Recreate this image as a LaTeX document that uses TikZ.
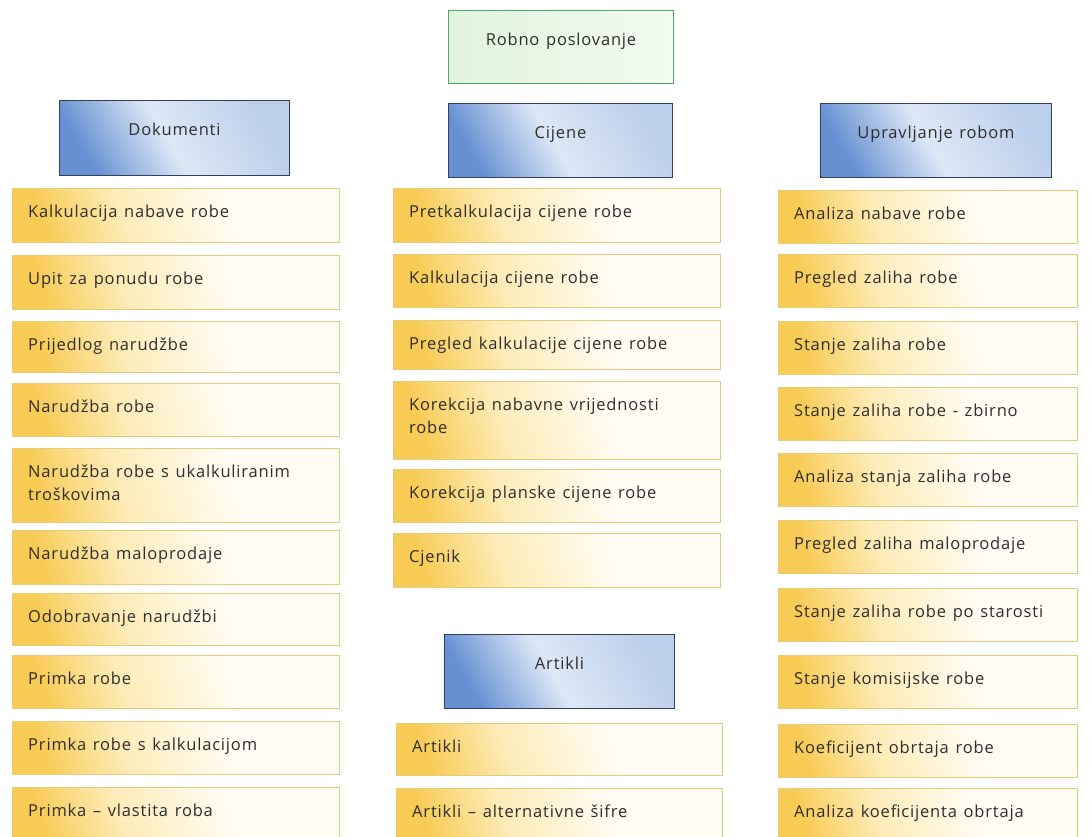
\documentclass[tikz,border=0pt]{standalone}
\usepackage{fontspec}
\setmainfont[LetterSpace=5,WordSpace=1.3]{Open Sans}
\definecolor{yA}{HTML}{F8CB55}
\definecolor{yB}{HTML}{FDECB8}
\definecolor{yC}{HTML}{FFFCF3}
\definecolor{yBorder}{HTML}{E3CC7C}
\definecolor{bA}{HTML}{6690D2}
\definecolor{bB}{HTML}{DDE8F6}
\definecolor{bC}{HTML}{BCCFEB}
\definecolor{bBorder}{HTML}{34405A}
\definecolor{gA}{HTML}{E0F4DC}
\definecolor{gB}{HTML}{F3FBF0}
\definecolor{gBorder}{HTML}{55A068}
\definecolor{txt}{HTML}{2E2E2E}
\pgfdeclarehorizontalshading{yelgrad}{100bp}{color(0bp)=(yA); color(25bp)=(yA); color(40bp)=(yB); color(60bp)=(yC); color(100bp)=(yC)}
\pgfdeclarehorizontalshading{bluegrad}{100bp}{color(0bp)=(bA); color(25bp)=(bA); color(48bp)=(bB); color(75bp)=(bC); color(100bp)=(bC)}
\pgfdeclarehorizontalshading{greengrad}{100bp}{color(0bp)=(gA); color(25bp)=(gA); color(75bp)=(gB); color(100bp)=(gB)}
\tikzset{
  yitem/.style={draw=yBorder, line width=1pt, shading=yelgrad, shading angle=18, anchor=north west, inner sep=0pt},
  bhead/.style={draw=bBorder, line width=1pt, shading=bluegrad, shading angle=30, anchor=north west, inner sep=0pt},
  ghead/.style={draw=gBorder, line width=1pt, shading=greengrad, anchor=north west, inner sep=0pt},
  itxt/.style={anchor=north west, inner sep=0pt, align=left, text=txt, font=\fontsize{16.5}{23}\selectfont},
  htxt/.style={anchor=base, inner sep=0pt, text=txt, font=\fontsize{16.5}{20}\selectfont}
}
% name, x, top, width, height, text
\newcommand{\yitm}[6]{%
  \node[yitem, minimum width=#4pt, minimum height=#5pt] (#1) at (#2,#3) {};
  \node[itxt] (#1t) at ([shift={(16,17)}]#1.north west) {#6};}
\newcommand{\hdr}[7]{%
  \node[#7, minimum width=#4pt, minimum height=#5pt] (#1) at (#2,#3) {};
  \node[htxt] (#1t) at ([shift={(0,35)}]#1.north) {#6};}
\begin{document}
\begin{tikzpicture}[x=1pt,y=-1pt]
\useasboundingbox[fill=white] (0,0) rectangle (1089,836);
% top
\hdr{top}{448}{10}{225}{73}{Robno poslovanje}{ghead}
% headers
\hdr{hd}{59}{100}{230}{75}{Dokumenti}{bhead}
\hdr{hc}{448}{103}{224}{74}{Cijene}{bhead}
\hdr{hu}{820}{103}{231}{74}{Upravljanje robom}{bhead}
\hdr{ha}{444}{634}{230}{74}{Artikli}{bhead}
% left column
\yitm{d1}{12}{188}{327}{54}{Kalkulacija nabave robe}
\yitm{d2}{12}{255}{327}{54}{Upit za ponudu robe}
\yitm{d3}{12}{321}{327}{51}{Prijedlog narudžbe}
\yitm{d4}{12}{383}{327}{53}{Narudžba robe}
\yitm{d5}{12}{448}{327}{74}{Narudžba robe s ukalkuliranim\\troškovima}
\yitm{d6}{12}{530}{327}{54}{Narudžba maloprodaje}
\yitm{d7}{12}{593}{327}{52}{Odobravanje narudžbi}
\yitm{d8}{12}{655}{327}{53}{Primka robe}
\yitm{d9}{12}{721}{327}{53}{Primka robe s kalkulacijom}
\yitm{d10}{12}{787}{327}{60}{Primka – vlastita roba}
% middle column
\yitm{c1}{393}{188}{327}{54}{Pretkalkulacija cijene robe}
\yitm{c2}{393}{254}{327}{53}{Kalkulacija cijene robe}
\yitm{c3}{393}{320}{327}{49}{Pregled kalkulacije cijene robe}
\yitm{c4}{393}{381}{327}{78}{Korekcija nabavne vrijednosti\\robe}
\yitm{c5}{393}{469}{327}{53}{Korekcija planske cijene robe}
\yitm{c6}{393}{533}{327}{54}{Cjenik}
\yitm{a1}{396}{723}{326}{52}{Artikli}
\yitm{a2}{396}{788}{326}{60}{Artikli – alternativne šifre}
% right column
\yitm{u1}{778}{190}{299}{53}{Analiza nabave robe}
\yitm{u2}{778}{254}{299}{53}{Pregled zaliha robe}
\yitm{u3}{778}{321}{299}{53}{Stanje zaliha robe}
\yitm{u4}{778}{387}{299}{53}{Stanje zaliha robe - zbirno}
\yitm{u5}{778}{453}{299}{53}{Analiza stanja zaliha robe}
\yitm{u6}{778}{520}{299}{53}{Pregled zaliha maloprodaje}
\yitm{u7}{778}{588}{299}{53}{Stanje zaliha robe po starosti}
\yitm{u8}{778}{655}{299}{53}{Stanje komisijske robe}
\yitm{u9}{778}{724}{299}{53}{Koeficijent obrtaja robe}
\yitm{u10}{778}{788}{299}{60}{Analiza koeficijenta obrtaja}
\end{tikzpicture}
\end{document}
